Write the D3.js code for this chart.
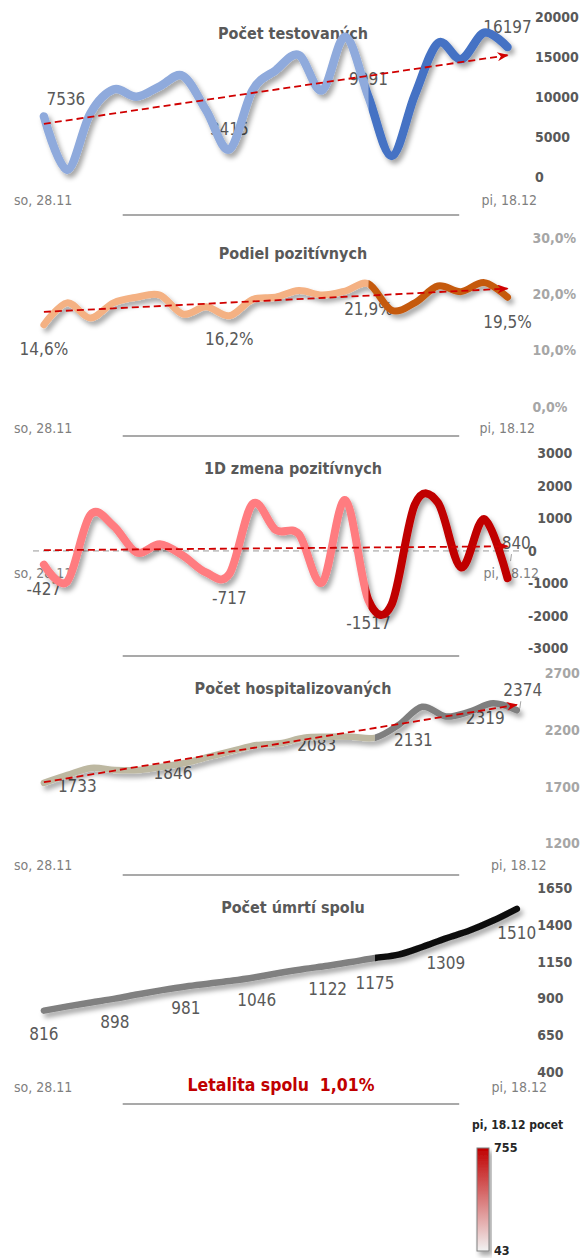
<!DOCTYPE html>
<html>
<head>
<meta charset="utf-8">
<script src="https://cdn.jsdelivr.net/npm/d3@7"></script>
<style>
  body { margin: 0; background: #fff; }
  text { font-family: "DejaVu Sans Condensed", "DejaVu Sans", sans-serif; }
</style>
</head>
<body>
<svg id="chart" width="583" height="1258"></svg>
<script>

// days 28.11 - 18.12
let dates = ['so, 28.11', 'ne, 29.11', 'po, 30.11', 'ut, 1.12', 'st, 2.12', 'št, 3.12', 'pi, 4.12',
  'so, 5.12', 'ne, 6.12', 'po, 7.12', 'ut, 8.12', 'st, 9.12', 'št, 10.12', 'pi, 11.12',
  'so, 12.12', 'ne, 13.12', 'po, 14.12', 'ut, 15.12', 'st, 16.12', 'št, 17.12', 'pi, 18.12'];

let tested = [7536, 850, 7900, 10900, 10000, 11300, 12600, 8300, 3415, 10800, 13300,
  15200, 10800, 17500, 9991, 2600, 10200, 16700, 14700, 18000, 16197];
let positiveShare = [0.146, 0.185, 0.158, 0.185, 0.195, 0.199, 0.165, 0.178, 0.162, 0.191, 0.195,
  0.207, 0.199, 0.206, 0.219, 0.172, 0.185, 0.215, 0.205, 0.221, 0.195];
let positiveChange = [-427, -950, 1100, 770, -50, 200, -150, -670, -717, 1440, 640,
  510, -975, 1560, -1517, -1650, 1420, 1480, -510, 975, -840];
let hospitalized = [1733, 1803, 1865, 1847, 1846, 1876, 1911, 1964, 2017, 2067, 2083,
  2132, 2141, 2141, 2131, 2244, 2405, 2319, 2361, 2435, 2374];
let deaths = [816, 845, 872, 898, 928, 956, 981, 1001, 1021, 1046, 1074,
  1100, 1122, 1148, 1175, 1198, 1250, 1309, 1362, 1430, 1510];

let ticksTested = [0, 5000, 10000, 15000, 20000];
let ticksShare = [0, 0.1, 0.2, 0.3];
let ticksChange = [-3000, -2000, -1000, 0, 1000, 2000, 3000];
let ticksHosp = [1200, 1700, 2200, 2700];
let ticksDeaths = [400, 650, 900, 1150, 1400, 1650];

let lethality = 0.0101;
let legendTitle = 'pi, 18.12 pocet';
let legendRange = [43, 755];

let sk = d3.formatLocale({decimal: ',', thousands: ' ', grouping: [3], currency: ['', ' €']});
let pct = sk.format('.1%');
let pct2 = sk.format('.2%');
let plain = function(d){ return String(d); };

let splitAt = 14; // from here the line is drawn darker

let panels = [
  {title: 'Počet testovaných', values: tested, domain: [0, 20000], top: 16.7, bottom: 176.7,
   ticks: ticksTested, fmt: plain, tickColor: '#595959', tickX: 535, xEnd: 507.5,
   light: '#8faadc', dark: '#4472c4', width: 8.5, titleY: 33, dateY: 200, dateRight: 537, sepY: 215,
   trend: true,
   labels: [{i: 0, dx: 22, dy: -17}, {i: 8, dy: -20}, {i: 14, dy: -18}, {i: 20, dy: -20}]},
  {title: 'Podiel pozitívnych', values: positiveShare, domain: [0, 0.3], top: 238.3, bottom: 406.7,
   ticks: ticksShare, fmt: pct, tickColor: '#a6a6a6', tickX: 532.4, xEnd: 507.5,
   light: '#f4b183', dark: '#c55a11', width: 7, titleY: 253, dateY: 428, dateRight: 535, sepY: 436,
   trend: true,
   labels: [{i: 0, dy: 24}, {i: 8, dy: 23}, {i: 14, dy: 25}, {i: 20, dy: 25}]},
  {title: '1D zmena pozitívnych', values: positiveChange, domain: [-3000, 3000], top: 453.3, bottom: 648.3,
   ticks: ticksChange, fmt: plain, tickColor: '#595959', tickX: 528, tickXPos: 537.3, xEnd: 507.5,
   light: '#ff7c80', dark: '#c00000', width: 8, titleY: 468, dateY: 573, dateRight: 539, sepY: 656,
   trend: true, zeroLine: true,
   labels: [{i: 0, dy: 24}, {i: 8, dy: 24}, {i: 14, dy: 23}, {i: 20, dx: 6, dy: -35, leader: true}]},
  {title: 'Počet hospitalizovaných', values: hospitalized, domain: [1200, 2700], top: 673.3, bottom: 843.3,
   ticks: ticksHosp, fmt: plain, tickColor: '#a6a6a6', tickX: 544.7, xEnd: 516.8,
   light: '#bdb8a1', dark: '#7f7f7f', width: 6.5, titleY: 688, dateY: 865, dateRight: 546.5, sepY: 875,
   trend: true,
   labels: [{i: 0, dx: 14, dy: 3, anchor: 'start'}, {i: 4, dx: 15, dy: 3, anchor: 'start'},
            {i: 10, dx: 17, dy: 2, anchor: 'start'}, {i: 14, dx: 19, dy: 2, anchor: 'start'},
            {i: 17, dx: 20, dy: 2, anchor: 'start'}, {i: 20, dx: 6, dy: -20, leader: true}]},
  {title: 'Počet úmrtí spolu', values: deaths, domain: [400, 1650], top: 888.3, bottom: 1071.7,
   ticks: ticksDeaths, fmt: plain, tickColor: '#595959', tickX: 537.3, xEnd: 516.8,
   light: '#808080', dark: '#0d0d0d', width: 6.5, titleY: 907, dateY: 1087, dateRight: 547, sepY: 1104,
   trend: false,
   labels: [{i: 0, dy: 23}, {i: 3, dy: 23}, {i: 6, dy: 22}, {i: 9, dy: 23}, {i: 12, dy: 23},
            {i: 14, dy: 25}, {i: 17, dy: 25}, {i: 20, dy: 24}]}
];

let svg = d3.select('#chart');
let defs = svg.append('defs');

defs.append('filter')
    .attr('id', 'shadow')
    .attr('x', '-10%').attr('y', '-20%')
    .attr('width', '130%').attr('height', '150%')
  .append('feDropShadow')
    .attr('dx', 3).attr('dy', 4)
    .attr('stdDeviation', 2.5)
    .attr('flood-color', '#000')
    .attr('flood-opacity', 0.35);

defs.append('marker')
    .attr('id', 'arrow')
    .attr('viewBox', '0 0 10 8')
    .attr('refX', 9).attr('refY', 4)
    .attr('markerWidth', 12).attr('markerHeight', 9)
    .attr('markerUnits', 'userSpaceOnUse')
    .attr('orient', 'auto')
  .append('path')
    .attr('d', 'M0,0 L10,4 L0,8 L3,4 Z')
    .attr('fill', '#d00000');

panels.forEach(function(p, k){
  let x = d3.scalePoint()
      .domain(d3.range(dates.length))
      .range([43.9, p.xEnd]);
  let y = d3.scaleLinear()
      .domain(p.domain)
      .range([p.bottom, p.top]);

  let g = svg.append('g').attr('class', 'panel');

  // title
  g.append('text')
      .attr('x', 293).attr('y', p.titleY).attr('dy', '0.35em')
      .attr('text-anchor', 'middle')
      .attr('font-weight', 'bold').attr('font-size', 16)
      .attr('fill', '#595959')
      .text(p.title);

  // right value axis
  g.selectAll('text.tick')
    .data(p.ticks)
    .enter().append('text')
      .attr('class', 'tick')
      .attr('x', function(d){ return (p.tickXPos && d > 0) ? p.tickXPos : p.tickX; })
      .attr('y', function(d){ return y(d); })
      .attr('dy', '0.35em')
      .attr('font-weight', 'bold').attr('font-size', 14)
      .attr('fill', p.tickColor)
      .text(p.fmt);

  // first / last day
  g.append('text')
      .attr('x', 14).attr('y', p.dateY).attr('dy', '0.35em')
      .attr('font-size', 14)
      .attr('fill', '#7f7f7f')
      .text(dates[0]);
  g.append('text')
      .attr('x', p.dateRight).attr('y', p.dateY).attr('dy', '0.35em')
      .attr('text-anchor', 'end')
      .attr('font-size', 14)
      .attr('fill', '#7f7f7f')
      .text(dates[dates.length - 1]);

  // separator
  g.append('line')
      .attr('x1', 122.7).attr('x2', 459.2)
      .attr('y1', p.sepY).attr('y2', p.sepY)
      .attr('stroke', '#8c8c8c').attr('stroke-width', 1.5);

  if (p.zeroLine) {
    g.append('line')
        .attr('x1', 33).attr('x2', 520)
        .attr('y1', y(0)).attr('y2', y(0))
        .attr('stroke', '#c4c4c4').attr('stroke-width', 1.8)
        .attr('stroke-dasharray', '6,4');
  }

  // data labels (under the line)
  g.selectAll('text.lbl')
    .data(p.labels)
    .enter().append('text')
      .attr('class', 'lbl')
      .attr('x', function(d){ return x(d.i) + (d.dx || 0); })
      .attr('y', function(d){ return y(p.values[d.i]) + (d.dy || 0); })
      .attr('dy', '0.35em')
      .attr('text-anchor', function(d){ return d.anchor || 'middle'; })
      .attr('font-size', 17)
      .attr('fill', '#595959')
      .text(function(d){ return p.fmt(p.values[d.i]); });

  g.selectAll('line.leader')
    .data(p.labels.filter(function(d){ return d.leader; }))
    .enter().append('line')
      .attr('class', 'leader')
      .attr('x1', function(d){ return x(d.i) + 4; })
      .attr('x2', function(d){ return x(d.i) + 3; })
      .attr('y1', function(d){ return y(p.values[d.i]) + d.dy + 11; })
      .attr('y2', function(d){ return y(p.values[d.i]) + d.dy + 18; })
      .attr('stroke', '#a6a6a6').attr('stroke-width', 1);

  // smoothed line, light part then dark part
  let line = d3.line()
      .x(function(d, i){ return x(i); })
      .y(function(d){ return y(d); })
      .curve(d3.curveCardinal.tension(0));

  defs.append('clipPath').attr('id', 'clipL' + k)
    .append('rect')
      .attr('x', 0).attr('y', p.top - 60)
      .attr('width', x(splitAt)).attr('height', p.bottom - p.top + 120);
  defs.append('clipPath').attr('id', 'clipR' + k)
    .append('rect')
      .attr('x', x(splitAt)).attr('y', p.top - 60)
      .attr('width', 583 - x(splitAt)).attr('height', p.bottom - p.top + 120);

  let lg = g.append('g').attr('filter', 'url(#shadow)');
  lg.append('path')
      .datum(p.values)
      .attr('clip-path', 'url(#clipL' + k + ')')
      .attr('d', line)
      .attr('fill', 'none')
      .attr('stroke', p.light)
      .attr('stroke-width', p.width)
      .attr('stroke-linecap', 'round')
      .attr('stroke-linejoin', 'round');
  lg.append('path')
      .datum(p.values)
      .attr('clip-path', 'url(#clipR' + k + ')')
      .attr('d', line)
      .attr('fill', 'none')
      .attr('stroke', p.dark)
      .attr('stroke-width', p.width)
      .attr('stroke-linecap', 'round')
      .attr('stroke-linejoin', 'round');

  // linear trend
  if (p.trend) {
    let n = p.values.length;
    let xm = (n - 1) / 2;
    let ym = d3.mean(p.values);
    let slope = d3.sum(p.values, function(v, i){ return (i - xm) * (v - ym); }) /
                d3.sum(p.values, function(v, i){ return (i - xm) * (i - xm); });
    g.append('line')
        .attr('x1', x(0)).attr('y1', y(ym - slope * xm))
        .attr('x2', x(n - 1)).attr('y2', y(ym + slope * xm))
        .attr('stroke', '#d00000').attr('stroke-width', 1.8)
        .attr('stroke-dasharray', '7,4')
        .attr('marker-end', 'url(#arrow)');
  }
});

// lethality
svg.append('text')
    .attr('x', 281).attr('y', 1085).attr('dy', '0.35em')
    .attr('text-anchor', 'middle')
    .attr('font-weight', 'bold').attr('font-size', 17.5)
    .attr('fill', '#c00000')
    .style('white-space', 'pre')
    .text('Letalita spolu  ' + pct2(lethality));

// colour legend
let ly = d3.scaleLinear().domain(legendRange).range([1251, 1148]);
let lcol = d3.scaleLinear().domain(legendRange).range(['#f2f2f2', '#c00000']);

let grad = defs.append('linearGradient')
    .attr('id', 'legendGrad')
    .attr('x1', 0).attr('y1', 1).attr('x2', 0).attr('y2', 0);
grad.selectAll('stop')
  .data(legendRange)
  .enter().append('stop')
    .attr('offset', function(d, i){ return i; })
    .attr('stop-color', lcol);

svg.append('text')
    .attr('x', 472).attr('y', 1125).attr('dy', '0.35em')
    .attr('font-weight', 'bold').attr('font-size', 12)
    .attr('fill', '#262626')
    .text(legendTitle);

svg.append('rect')
    .attr('x', 477).attr('y', ly(legendRange[1]))
    .attr('width', 12).attr('height', ly(legendRange[0]) - ly(legendRange[1]))
    .attr('fill', 'url(#legendGrad)')
    .attr('stroke', '#7f7f7f').attr('stroke-width', 1)
    .attr('filter', 'url(#shadow)');

svg.selectAll('text.legtick')
  .data(legendRange)
  .enter().append('text')
    .attr('class', 'legtick')
    .attr('x', 494)
    .attr('y', function(d){ return ly(d); })
    .attr('dy', '0.35em')
    .attr('font-weight', 'bold').attr('font-size', 12.5)
    .attr('fill', '#262626')
    .text(function(d){ return d; });

</script>
</body>
</html>
